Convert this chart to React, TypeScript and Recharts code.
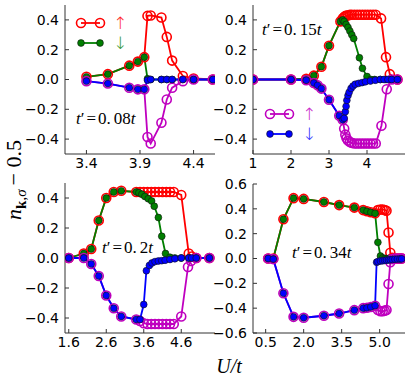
import React from 'react';
import { LineChart, Line, XAxis, YAxis, Legend } from 'recharts';

// ---------- Panel 1 : t' = 0.08t ----------
const p1U = [3.4, 3.6, 3.8, 3.88, 3.94, 3.97, 4.0, 4.1, 4.15, 4.2, 4.3, 4.4, 4.58];
const p1Red = [0.018, 0.036, 0.093, 0.12, 0.15, 0.427, 0.43, 0.416, 0.286, 0.127, 0.023, 0.007, 0.0];
const p1Green = [0.018, 0.036, 0.093, 0.12, 0.15, 0.005, 0, 0, 0, 0, 0, 0, 0];
const p1Magenta = [-0.011, -0.027, -0.055, -0.066, -0.066, -0.386, -0.43, -0.29, -0.134, -0.055, -0.011, 0, 0];
const p1Blue = [-0.011, -0.027, -0.055, -0.066, -0.066, -0.005, 0, 0, 0, 0, 0, 0, 0];

// ---------- Panel 2 : t' = 0.15t ----------
const p2RedU = [1, 2, 2.4, 2.6, 2.8, 3.0, 3.3, 3.36, 3.4, 3.43, 3.46, 3.5, 3.55, 3.6, 3.67, 3.74, 3.81, 3.88, 3.95, 4.02, 4.09, 4.16, 4.23, 4.37, 4.5, 4.6, 4.8];
const p2Red = [0, 0, 0.005, 0.026, 0.086, 0.227, 0.39, 0.41, 0.42, 0.425, 0.43, 0.43, 0.435, 0.435, 0.435, 0.435, 0.435, 0.435, 0.435, 0.435, 0.435, 0.435, 0.435, 0.41, 0.15, 0.036, 0];
const p2GreenU = [1, 2, 2.4, 2.6, 2.8, 3.0, 3.3, 3.36, 3.4, 3.45, 3.5, 3.55, 3.6, 3.65, 3.8, 3.88, 4.0, 4.1, 4.2, 4.35, 4.5, 4.65, 4.8];
const p2Green = [0, 0, 0.005, 0.026, 0.086, 0.227, 0.39, 0.4, 0.39, 0.37, 0.35, 0.325, 0.3, 0.275, 0.146, 0.075, 0.02, 0, 0, 0, 0, 0, 0];
const p2MagentaU = [1, 2, 2.4, 2.6, 2.7, 2.8, 3.0, 3.27, 3.36, 3.4, 3.43, 3.46, 3.5, 3.55, 3.6, 3.67, 3.74, 3.81, 3.88, 3.95, 4.02, 4.09, 4.16, 4.23, 4.38, 4.52, 4.65, 4.8];
const p2Magenta = [0, 0, -0.005, -0.023, -0.039, -0.061, -0.136, -0.243, -0.27, -0.33, -0.37, -0.395, -0.41, -0.42, -0.425, -0.43, -0.43, -0.43, -0.43, -0.43, -0.43, -0.43, -0.43, -0.43, -0.31, -0.065, 0, 0];
const p2BlueU = [1, 2, 2.4, 2.6, 2.7, 2.8, 3.0, 3.27, 3.36, 3.4, 3.43, 3.45, 3.47, 3.5, 3.53, 3.58, 3.63, 3.69, 3.78, 3.87, 3.96, 4.09, 4.22, 4.35, 4.45, 4.55, 4.65, 4.8];
const p2Blue = [0, 0, -0.005, -0.023, -0.039, -0.061, -0.136, -0.243, -0.27, -0.26, -0.216, -0.18, -0.14, -0.108, -0.086, -0.06, -0.044, -0.032, -0.026, -0.021, -0.015, -0.01, -0.005, 0, 0, 0, 0, 0];

// ---------- Panel 3 : t' = 0.2t ----------
const p3RedU = [1.6, 2.0, 2.2, 2.4, 2.6, 2.8, 3.0, 3.4, 3.5, 3.6, 3.7, 3.8, 3.9, 4.0, 4.1, 4.2, 4.3, 4.4, 4.6, 4.8, 4.88, 5.0, 5.35];
const p3Red = [0, 0.03, 0.06, 0.25, 0.4, 0.44, 0.448, 0.44, 0.44, 0.44, 0.44, 0.44, 0.44, 0.44, 0.44, 0.44, 0.44, 0.44, 0.42, 0.03, 0.01, 0, 0];
const p3GreenU = [1.6, 2.0, 2.2, 2.4, 2.6, 2.8, 3.0, 3.4, 3.47, 3.55, 3.63, 3.72, 3.81, 3.88, 3.99, 4.08, 4.18, 4.3, 4.43, 4.6, 4.8, 5.0, 5.35];
const p3Green = [0, 0.03, 0.06, 0.25, 0.4, 0.44, 0.448, 0.44, 0.435, 0.425, 0.41, 0.395, 0.38, 0.345, 0.27, 0.145, 0.03, 0.005, 0, 0, 0, 0, 0];
const p3MagentaU = [1.6, 2.0, 2.2, 2.4, 2.6, 2.8, 3.0, 3.4, 3.5, 3.6, 3.7, 3.8, 3.9, 4.0, 4.1, 4.2, 4.3, 4.4, 4.6, 4.78, 4.86, 5.0, 5.35];
const p3Magenta = [0, 0, -0.04, -0.12, -0.25, -0.335, -0.39, -0.41, -0.42, -0.435, -0.44, -0.44, -0.44, -0.44, -0.44, -0.44, -0.44, -0.44, -0.39, -0.06, -0.02, 0, 0];
const p3BlueU = [1.6, 2.0, 2.2, 2.4, 2.6, 2.8, 3.0, 3.4, 3.5, 3.6, 3.67, 3.75, 3.82, 3.9, 3.99, 4.08, 4.17, 4.3, 4.43, 4.6, 4.8, 4.88, 5.0, 5.35];
const p3Blue = [0, 0, -0.04, -0.12, -0.25, -0.335, -0.39, -0.41, -0.41, -0.31, -0.085, -0.05, -0.033, -0.024, -0.02, -0.018, -0.015, -0.01, -0.005, 0, 0, 0, 0, 0];

// ---------- Panel 4 : t' = 0.34t ----------
const p4U = [0.6, 0.8, 1.2, 1.6, 2.0, 2.8, 3.4, 4.0, 4.35, 4.5, 4.65, 4.82, 4.93, 5.03, 5.12, 5.2, 5.27, 5.35, 5.42, 5.5, 5.6, 5.7, 5.8, 5.87];
const p4Red = [0, 0, 0.316, 0.486, 0.48, 0.455, 0.43, 0.41, 0.39, 0.38, 0.372, 0.364, 0.39, 0.395, 0.395, 0.39, 0.385, 0.21, 0.046, 0.005, 0, 0, 0, 0];
const p4Green = [0, 0, 0.316, 0.486, 0.48, 0.455, 0.43, 0.41, 0.39, 0.38, 0.372, 0.364, 0.13, 0.02, 0.005, 0, 0, 0, 0, 0, 0, 0, 0, 0];
const p4Magenta = [0, -0.005, -0.28, -0.47, -0.477, -0.461, -0.443, -0.416, -0.4, -0.397, -0.39, -0.38, -0.415, -0.425, -0.425, -0.42, -0.415, -0.205, -0.03, -0.005, 0, 0, 0, 0];
const p4BlueU = [0.6, 0.8, 1.2, 1.6, 2.0, 2.8, 3.4, 4.0, 4.35, 4.5, 4.65, 4.82, 4.88, 4.93, 5.03, 5.12, 5.2, 5.27, 5.35, 5.42, 5.5, 5.6, 5.7, 5.8, 5.87];
const p4Blue = [0, -0.005, -0.28, -0.47, -0.477, -0.461, -0.443, -0.416, -0.4, -0.397, -0.39, -0.38, -0.03, -0.025, -0.02, -0.018, -0.016, -0.014, -0.012, -0.01, -0.008, -0.006, -0.005, -0.004, -0.003];

// ---------- axes ----------
const p1XTicks = [3.4, 3.9, 4.4];
const p2XTicks = [1, 2, 3, 4];
const p3XTicks = [1.6, 2.6, 3.6, 4.6];
const p4XTicks = [0.5, 2.0, 3.5, 5.0];
const yTicksA = [-0.4, -0.2, 0, 0.2, 0.4];
const yTicksB = [-0.6, -0.4, -0.2, 0, 0.2, 0.4, 0.6];

const RED = '#ff0000';
const GREEN = '#007f00';
const MAGENTA = '#bf00bf';
const BLUE = '#0000ff';
const FRAME = '#333';

const mk = (u: number[], v: number[]) => u.map((x, i) => ({ u: x, v: v[i] }));
const fmt1 = (v: number) => (v < -1e-9 ? '\u2212' : '') + Math.abs(v).toFixed(1);
const fmt0 = (v: number) => String(Math.round(v));

const LegendBox = (props: any) => {
  const items = (props.payload || []).filter((p: any) => p.type !== 'none');
  return (
    <svg width={60} height={40} style={{ overflow: 'visible' }}>
      {items.map((p: any, i: number) => {
        const y = 7 + i * 20;
        const open = p.value === '\u2191';
        return (
          <g key={i}>
            <line x1={6} x2={25} y1={y} y2={y} stroke={p.color} strokeWidth={1.8} />
            {[6, 25].map((cx) => (
              <circle key={cx} cx={cx} cy={y} r={open ? 4.5 : 3.4}
                fill={open ? 'none' : p.color} stroke={open ? p.color : '#111'} strokeWidth={open ? 1.6 : 0.6} />
            ))}
            <text x={45} y={y + 6} textAnchor="middle" fontSize={17} fontFamily="DejaVu Sans" fontWeight={300} fill={p.color} opacity={0.85}>{p.value}</text>
          </g>
        );
      })}
    </svg>
  );
};

type S = { u: number[]; v: number[] };
interface PanelProps {
  left: number; top: number; width: number; height: number;
  mTop: number; mRight: number; yWidth: number; xHeight: number;
  xDomain: [number, number]; xTicks: number[]; xFmt: (v: number) => string;
  yDomain: [number, number]; yTicks: number[];
  red: S; green: S; magenta: S; blue: S;
  legend?: 'A' | 'B'; legendPos?: { left: number; top: number };
}

function Panel(p: PanelProps) {
  const tickStyle = { fontSize: 14, fontFamily: 'DejaVu Sans', fill: '#000' };
  const ax = { stroke: FRAME, strokeWidth: 1 };
  const openDot = (c: string) => ({ r: 4.5, stroke: c, strokeWidth: 1.6, fill: 'none' });
  const fillDot = (c: string) => ({ r: 3.4, stroke: '#111', strokeWidth: 0.6, fill: c });
  return (
    <div style={{ position: 'absolute', left: p.left, top: p.top }}>
      <LineChart width={p.width} height={p.height} margin={{ top: p.mTop, right: p.mRight, bottom: 0, left: 0 }}>
        <XAxis xAxisId="b" type="number" dataKey="u" domain={p.xDomain} ticks={p.xTicks} interval={0}
          allowDataOverflow height={p.xHeight} tickSize={-4} tickMargin={8} tickFormatter={p.xFmt}
          tick={tickStyle} axisLine={ax} tickLine={ax} />
        <XAxis xAxisId="t" orientation="top" type="number" dataKey="u" domain={p.xDomain} ticks={p.xTicks} interval={0}
          allowDataOverflow height={0} tickSize={-4} tick={false} axisLine={ax} tickLine={ax} />
        <YAxis yAxisId="l" type="number" domain={p.yDomain} ticks={p.yTicks} interval={0} allowDataOverflow
          width={p.yWidth} tickSize={-4} tickMargin={10} tickFormatter={fmt1} tick={tickStyle} axisLine={ax} tickLine={ax} />
        <YAxis yAxisId="r" orientation="right" type="number" domain={p.yDomain} ticks={p.yTicks} interval={0} allowDataOverflow
          width={0} tickSize={-4} tick={false} axisLine={ax} tickLine={ax} />
        <Line xAxisId="b" yAxisId="l" data={mk(p.red.u, p.red.v)} dataKey="v" name={'\u2191'}
          legendType={p.legend === 'A' ? 'line' : 'none'} stroke={RED} strokeWidth={1.8}
          dot={openDot(RED)} activeDot={false} isAnimationActive={false} />
        <Line xAxisId="b" yAxisId="l" data={mk(p.green.u, p.green.v)} dataKey="v" name={'\u2193'}
          legendType={p.legend === 'A' ? 'line' : 'none'} stroke={GREEN} strokeWidth={1.8}
          dot={fillDot(GREEN)} activeDot={false} isAnimationActive={false} />
        <Line xAxisId="b" yAxisId="l" data={mk(p.magenta.u, p.magenta.v)} dataKey="v" name={'\u2191'}
          legendType={p.legend === 'B' ? 'line' : 'none'} stroke={MAGENTA} strokeWidth={1.8}
          dot={openDot(MAGENTA)} activeDot={false} isAnimationActive={false} />
        <Line xAxisId="b" yAxisId="l" data={mk(p.blue.u, p.blue.v)} dataKey="v" name={'\u2193'}
          legendType={p.legend === 'B' ? 'line' : 'none'} stroke={BLUE} strokeWidth={1.8}
          dot={fillDot(BLUE)} activeDot={false} isAnimationActive={false} />
        {p.legend && p.legendPos && (
          <Legend layout="vertical" align="center" verticalAlign="middle" content={LegendBox}
            wrapperStyle={{ position: 'absolute', left: p.legendPos.left, top: p.legendPos.top, width: 60, height: 40 }} />
        )}
      </LineChart>
    </div>
  );
}

const Ann = ({ x, y, num }: { x: number; y: number; num: string }) => {
  const [a, b] = num.split('.');
  return (
    <text x={x} y={y} fontFamily="Liberation Serif" fontSize={17} fill="#000">
      <tspan fontStyle="italic">t</tspan>
      <tspan>{'\u2032'}</tspan>
      <tspan dx={2}>=</tspan>
      <tspan dx={2}>{a + '.'}</tspan>
      <tspan dx={3}>{b}</tspan>
      <tspan fontStyle="italic">t</tspan>
    </text>
  );
};

export default function App() {
  return (
    <div style={{ position: 'absolute', left: 0, top: 0, width: 409, height: 383, background: '#fff' }}>
      <Panel left={0} top={0} width={220} height={180} mTop={5} mRight={5} yWidth={65} xHeight={26}
        xDomain={[3.2, 4.6]} xTicks={p1XTicks} xFmt={fmt1} yDomain={[-0.5, 0.5]} yTicks={yTicksA}
        red={{ u: p1U, v: p1Red }} green={{ u: p1U, v: p1Green }}
        magenta={{ u: p1U, v: p1Magenta }} blue={{ u: p1U, v: p1Blue }}
        legend="A" legendPos={{ left: 75, top: 16 }} />
      <Panel left={200} top={0} width={209} height={180} mTop={5} mRight={4} yWidth={53} xHeight={26}
        xDomain={[1, 5]} xTicks={p2XTicks} xFmt={fmt0} yDomain={[-0.5, 0.5]} yTicks={yTicksA}
        red={{ u: p2RedU, v: p2Red }} green={{ u: p2GreenU, v: p2Green }}
        magenta={{ u: p2MagentaU, v: p2Magenta }} blue={{ u: p2BlueU, v: p2Blue }}
        legend="B" legendPos={{ left: 64, top: 107 }} />
      <Panel left={0} top={178} width={220} height={185} mTop={5} mRight={5} yWidth={65} xHeight={30}
        xDomain={[1.5, 5.5]} xTicks={p3XTicks} xFmt={fmt1} yDomain={[-0.5, 0.5]} yTicks={yTicksA}
        red={{ u: p3RedU, v: p3Red }} green={{ u: p3GreenU, v: p3Green }}
        magenta={{ u: p3MagentaU, v: p3Magenta }} blue={{ u: p3BlueU, v: p3Blue }} />
      <Panel left={200} top={168} width={209} height={195} mTop={16} mRight={4} yWidth={53} xHeight={30}
        xDomain={[0, 6]} xTicks={p4XTicks} xFmt={fmt1} yDomain={[-0.6, 0.6]} yTicks={yTicksB}
        red={{ u: p4U, v: p4Red }} green={{ u: p4U, v: p4Green }}
        magenta={{ u: p4U, v: p4Magenta }} blue={{ u: p4BlueU, v: p4Blue }} />
      <svg width={409} height={383} style={{ position: 'absolute', left: 0, top: 0, pointerEvents: 'none' }}>
        <Ann x={76} y={124} num="0.08" />
        <Ann x={262} y={35} num="0.15" />
        <Ann x={102} y={253} num="0.2" />
        <Ann x={292} y={258} num="0.34" />
        <text transform="translate(21,180) rotate(-90)" textAnchor="middle" fontFamily="Liberation Serif" fontSize={22} fill="#000">
          <tspan fontStyle="italic">n</tspan>
          <tspan fontSize={15} dy={5} fontWeight="bold">k</tspan>
          <tspan fontSize={15}>,</tspan>
          <tspan fontSize={15} fontStyle="italic">{'\u03c3'}</tspan>
          <tspan dy={-5} dx={4}>{'\u2212 0.5'}</tspan>
        </text>
        <text x={229} y={373} textAnchor="middle" fontFamily="Liberation Serif" fontSize={20} fontStyle="italic" fill="#000">U/t</text>
      </svg>
    </div>
  );
}
